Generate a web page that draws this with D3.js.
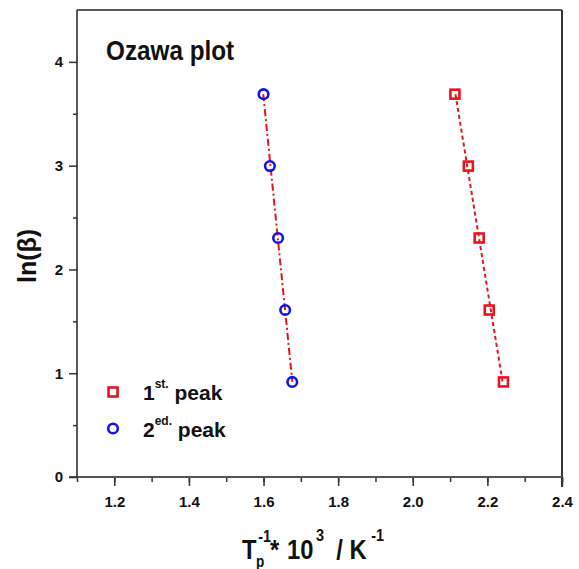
<!DOCTYPE html>
<html>
<head>
<meta charset="utf-8">
<script src="https://cdn.jsdelivr.net/npm/d3@7"></script>
<style>
  body { margin: 0; background: #fff; }
  svg { font-family: "Liberation Sans", Arial, sans-serif; font-weight: bold; }
</style>
</head>
<body>
<svg id="chart" width="579" height="569"></svg>
<script>
// data
var lnBeta = [3.689, 2.996, 2.303, 1.609, 0.916];
var peak1 = [2.113, 2.149, 2.178, 2.205, 2.243];
var peak2 = [1.600, 1.617, 1.639, 1.658, 1.677];
var xTicks = [1.2, 1.4, 1.6, 1.8, 2.0, 2.2, 2.4];
var yTicks = [0, 1, 2, 3, 4];

var svg = d3.select('#chart');
var pLeft = 77, pTop = 10, pRight = 562, pBottom = 477;

var x = d3.scaleLinear().domain([1.1, 2.4]).range([pLeft, pRight]);
var y = d3.scaleLinear().domain([0, 4.5]).range([pBottom, pTop]);

// frame
svg.append('line').attr('x1', pLeft).attr('x2', pRight).attr('y1', pTop).attr('y2', pTop)
    .attr('stroke', '#222').attr('stroke-width', 1.5);
svg.append('line').attr('x1', pRight).attr('x2', pRight).attr('y1', pTop).attr('y2', pBottom + 10)
    .attr('stroke', '#333').attr('stroke-width', 2);

// bottom axis (major + minor)
var xMinor = svg.append('g').attr('transform', 'translate(0,' + pBottom + ')')
    .call(d3.axisBottom(x).tickValues(d3.range(1.1, 2.45, 0.1)).tickSize(5).tickFormat(''));
xMinor.select('.domain').remove();
var xMajor = svg.append('g').attr('transform', 'translate(0,' + pBottom + ')')
    .call(d3.axisBottom(x).tickValues(xTicks).tickSize(9).tickPadding(10).tickFormat(d3.format('.1f')));
xMajor.select('.domain').remove();
xMajor.selectAll('text').attr('font-size', 15).attr('fill', '#111')
    .attr('font-family', '"Liberation Sans", Arial, sans-serif').attr('font-weight', 'bold');
svg.append('line').attr('x1', pLeft - 8).attr('x2', pRight).attr('y1', pBottom).attr('y2', pBottom)
    .attr('stroke', '#555').attr('stroke-width', 2);

// left axis
var yMinor = svg.append('g').attr('transform', 'translate(' + pLeft + ',0)')
    .call(d3.axisLeft(y).tickValues([0.5, 1.5, 2.5, 3.5]).tickSize(4).tickFormat(''));
yMinor.select('.domain').remove();
var yMajor = svg.append('g').attr('transform', 'translate(' + pLeft + ',0)')
    .call(d3.axisLeft(y).tickValues(yTicks).tickSize(8).tickPadding(6).tickFormat(d3.format('d')));
yMajor.select('.domain').remove();
yMajor.selectAll('text').attr('font-size', 15).attr('fill', '#111')
    .attr('font-family', '"Liberation Sans", Arial, sans-serif').attr('font-weight', 'bold');
svg.selectAll('.tick line').attr('stroke', '#333').attr('stroke-width', 1.5);
svg.append('line').attr('x1', pLeft).attr('x2', pLeft).attr('y1', pTop).attr('y2', pBottom)
    .attr('stroke', '#222').attr('stroke-width', 1.5);

// linear fit x = a + b*y through each series
function fit(xs) {
    var my = d3.mean(lnBeta), mx = d3.mean(xs);
    var sxy = d3.sum(lnBeta, function (v, i) { return (v - my) * (xs[i] - mx); });
    var syy = d3.sum(lnBeta, function (v) { return (v - my) * (v - my); });
    var b = sxy / syy, a = mx - b * my;
    var y0 = d3.max(lnBeta), y1 = d3.min(lnBeta);
    return [[a + b * y0, y0], [a + b * y1, y1]];
}
var line = d3.line().x(function (d) { return x(d[0]); }).y(function (d) { return y(d[1]); });

svg.append('path').attr('d', line(fit(peak1))).attr('fill', 'none')
    .attr('stroke', '#e8141c').attr('stroke-width', 2).attr('stroke-dasharray', '4,3');
svg.append('path').attr('d', line(fit(peak2))).attr('fill', 'none')
    .attr('stroke', '#e8141c').attr('stroke-width', 2).attr('stroke-dasharray', '7,3,2,3');

// markers
svg.selectAll('.sq').data(peak1).enter().append('rect')
    .attr('x', function (d) { return x(d) - 4.5; })
    .attr('y', function (d, i) { return y(lnBeta[i]) - 4.5; })
    .attr('width', 9).attr('height', 9)
    .attr('fill', 'none').attr('stroke', '#e8141c').attr('stroke-width', 2.6);
svg.selectAll('.ci').data(peak2).enter().append('circle')
    .attr('cx', function (d) { return x(d); })
    .attr('cy', function (d, i) { return y(lnBeta[i]); })
    .attr('r', 4.8)
    .attr('fill', 'none').attr('stroke', '#1414e6').attr('stroke-width', 2.6);

// title
svg.append('text').attr('transform', 'translate(106,60) scale(0.9,1)')
    .attr('font-size', 27).attr('fill', '#111').text('Ozawa plot');

// legend
svg.append('rect').attr('x', 108.5).attr('y', 387.5).attr('width', 9).attr('height', 9)
    .attr('fill', 'none').attr('stroke', '#e8141c').attr('stroke-width', 2.6);
svg.append('circle').attr('cx', 113).attr('cy', 428.5).attr('r', 4.8)
    .attr('fill', 'none').attr('stroke', '#1414e6').attr('stroke-width', 2.6);
var l1 = svg.append('text').attr('x', 143).attr('y', 400).attr('font-size', 21).attr('fill', '#111');
l1.append('tspan').text('1');
l1.append('tspan').attr('font-size', 12).attr('dy', -12).text('st.');
l1.append('tspan').attr('dy', 12).text(' peak');
var l2 = svg.append('text').attr('x', 143).attr('y', 437).attr('font-size', 21).attr('fill', '#111');
l2.append('tspan').text('2');
l2.append('tspan').attr('font-size', 12).attr('dy', -12).text('ed.');
l2.append('tspan').attr('dy', 12).text(' peak');

// x axis title (tall, narrow lettering)
var xl = svg.append('g').attr('transform', 'translate(242,0) scale(0.85,1)')
    .append('text').attr('fill', '#111');
xl.append('tspan').attr('x', 0).attr('y', 559).attr('font-size', 28).text('T');
xl.append('tspan').attr('x', 16.5).attr('y', 567).attr('font-size', 16).text('p');
xl.append('tspan').attr('x', 19).attr('y', 542).attr('font-size', 17).text('-1');
xl.append('tspan').attr('x', 33).attr('y', 559).attr('font-size', 28).text('*');
xl.append('tspan').attr('x', 53).attr('y', 559).attr('font-size', 28).text('10');
xl.append('tspan').attr('x', 87).attr('y', 541).attr('font-size', 17).text('3');
xl.append('tspan').attr('x', 111).attr('y', 559).attr('font-size', 28).text('/ K');
xl.append('tspan').attr('x', 152).attr('y', 541).attr('font-size', 17).text('-1');

svg.append('text').attr('transform', 'translate(36,256) rotate(-90)').attr('text-anchor', 'middle')
    .attr('font-size', 25).attr('fill', '#111').text('ln(\u03b2)');
</script>
</body>
</html>
